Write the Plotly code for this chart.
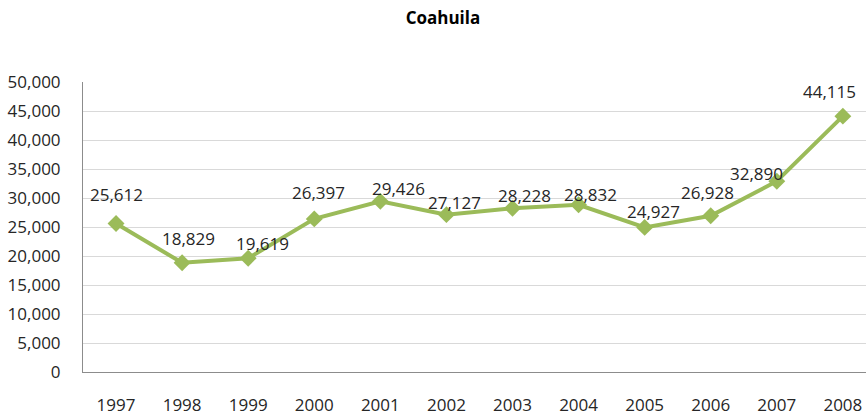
import plotly.graph_objects as go

years = ["1997", "1998", "1999", "2000", "2001", "2002", "2003", "2004", "2005", "2006", "2007", "2008"]
values = [25612, 18829, 19619, 26397, 29426, 27127, 28228, 28832, 24927, 26928, 32890, 44115]
y_ticks = [0, 5000, 10000, 15000, 20000, 25000, 30000, 35000, 40000, 45000, 50000]

# label offsets in pixels (style only)
label_dx = [0, 6, 14, 4, 18, 8, 12, 12, 9, -3, -20, -13]
label_dy = [29, 24, 15, 26, 13, 12, 13, 10, 16, 23, 8, 25]

FONT = "Open Sans"
GREEN = "#9BBB59"

fig = go.Figure()
fig.add_trace(go.Scatter(
    x=list(range(len(years))), y=values, mode="lines+markers",
    line=dict(color=GREEN, width=4),
    marker=dict(symbol="diamond", size=13, color=GREEN),
    hoverinfo="skip", showlegend=False, cliponaxis=False,
))

for i, v in enumerate(values):
    fig.add_annotation(
        x=i, y=v, text=f"{v:,}", showarrow=False,
        xshift=label_dx[i], yshift=label_dy[i],
        font=dict(family=FONT, size=17, color="#262626"),
    )

fig.update_layout(
    width=866, height=415,
    margin=dict(l=83, r=0, t=82, b=43, autoexpand=False),
    paper_bgcolor="white", plot_bgcolor="white",
    title=dict(text="<b>Coahuila</b>", x=0.5115, xanchor="center", y=0.957, yanchor="middle",
               font=dict(family=FONT, size=17, color="black")),
    xaxis=dict(
        range=[-0.5, 11.35], tickmode="array",
        tickvals=list(range(len(years))), ticktext=years,
        showgrid=False, zeroline=False, automargin=False,
        showline=True, linecolor="#8C8C8C", linewidth=1,
        ticks="", ticklabelstandoff=18,
        tickfont=dict(family=FONT, size=17, color="#262626"),
    ),
    yaxis=dict(
        range=[0, 50000], tickmode="array", tickvals=y_ticks,
        ticktext=[f"{t:,}" for t in y_ticks],
        showgrid=True, gridcolor="#D9D9D9", gridwidth=1, zeroline=False,
        automargin=False,
        showline=True, linecolor="#8C8C8C", linewidth=1,
        ticks="", ticklabelstandoff=18,
        tickfont=dict(family=FONT, size=17, color="#262626"),
    ),
)

fig.write_html(
    "out.html",
    config={"displayModeBar": False, "staticPlot": True},
    post_script="document.body.style.margin='0';document.body.style.overflow='hidden';",
)
